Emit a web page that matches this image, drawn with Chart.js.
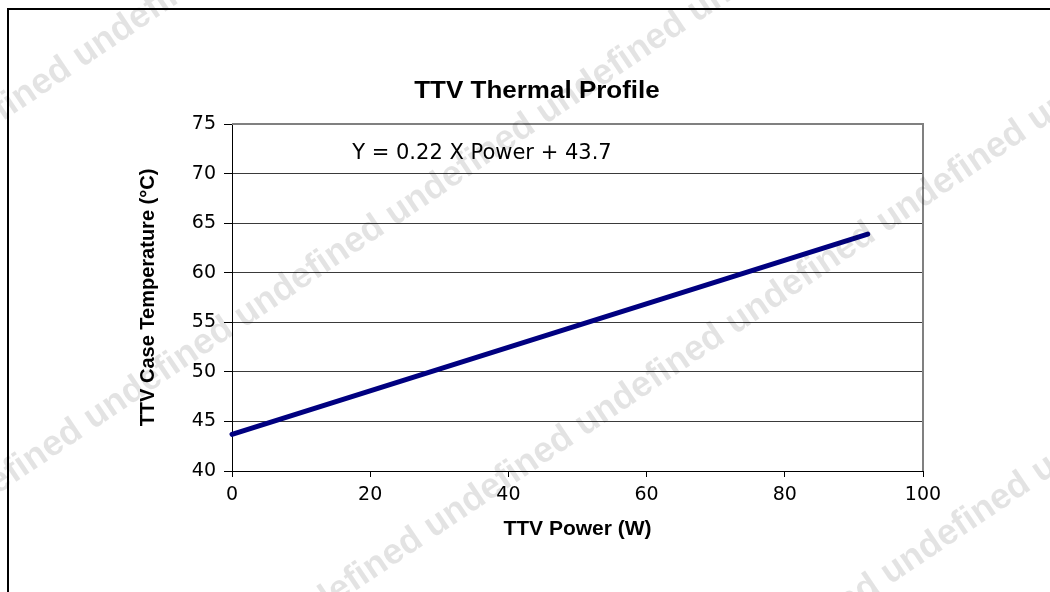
<!DOCTYPE html>
<html>
<head>
<meta charset="utf-8">
<title>TTV Thermal Profile</title>
<script src="https://cdn.jsdelivr.net/npm/chart.js@4.4.1/dist/chart.umd.min.js"></script>
<style>
  html, body { margin: 0; padding: 0; background: #fff; overflow: hidden; }
  #wrap { position: relative; width: 1050px; height: 592px; }
  #frame { position: absolute; left: 7px; top: 8px; width: 1100px; height: 700px;
           border-left: 2px solid #000; border-top: 2px solid #000; }
  #ttvChart { position: absolute; left: 0; top: 0; }
</style>
</head>
<body>
<div id="wrap">
  <div id="frame"></div>
  <canvas id="ttvChart" width="1050" height="592"></canvas>
</div>
<script>
// values
const powerW = [0, 92];
const caseTempC = [43.7, 63.9];
const xTicks = [0, 20, 40, 60, 80, 100];
const yTicks = [40, 45, 50, 55, 60, 65, 70, 75];

const chartTitle = 'TTV Thermal Profile';
const fitText = 'Y = 0.22 X Power + 43.7';
const watermark = 'undefined ';

const points = [];
powerW.forEach((p, i) => {
    points.push({ x: p, y: caseTempC[i] });
});

// title, equation text, watermark
const extras = {
    id: 'extras',
    afterDraw(chart) {
        const ctx = chart.ctx;
        const xs = chart.scales.x, ys = chart.scales.y;

        ctx.save();
        ctx.fillStyle = '#000';
        ctx.textAlign = 'center';
        ctx.textBaseline = 'middle';
        ctx.font = 'bold 23px "Liberation Sans", Arial, sans-serif';
        ctx.translate(537, 92);
        ctx.scale(1.13, 1);
        ctx.fillText(chartTitle, 0, 0);
        ctx.restore();

        ctx.save();
        ctx.fillStyle = '#000';
        ctx.textAlign = 'left';
        ctx.textBaseline = 'middle';
        ctx.font = '21px "DejaVu Sans", sans-serif';
        ctx.fillText(fitText, xs.getPixelForValue(17.4), ys.getPixelForValue(72));
        ctx.restore();

        // faint diagonal watermark
        const rows = [[82, 68], [93, 430], [735, 335], [890, 585]];
        ctx.save();
        ctx.font = 'bold 36px "Liberation Sans", Arial, sans-serif';
        ctx.fillStyle = 'rgba(0,0,0,0.11)';
        ctx.textBaseline = 'alphabetic';
        const period = ctx.measureText(watermark).width;
        rows.forEach(r => {
            ctx.save();
            ctx.translate(r[0], r[1]);
            ctx.rotate(-34 * Math.PI / 180);
            ctx.fillText(watermark.repeat(16), -8 * period, 0);
            ctx.restore();
        });
        ctx.restore();
    }
};

const data = {
    datasets: [{
        label: 'TTV',
        data: points,
        showLine: true,
        borderColor: '#000080',
        backgroundColor: '#000080',
        borderWidth: 5,
        borderCapStyle: 'round',
        pointRadius: 0,
        clip: false
    }]
};

const config = {
    type: 'scatter',
    data: data,
    options: {
        responsive: false,
        animation: false,
        layout: { padding: { left: 8, right: 127, top: 124, bottom: 10 } },
        plugins: {
            legend: { display: false },
            title: { display: false },
            tooltip: { enabled: false }
        },
        scales: {
            x: {
                type: 'linear',
                min: xTicks[0],
                max: xTicks[xTicks.length - 1],
                afterBuildTicks: s => { s.ticks = xTicks.map(v => ({ value: v })); },
                afterFit: s => { s.height = 111; },
                grid: { drawOnChartArea: false, drawTicks: true, tickLength: 6, color: '#000' },
                border: { color: '#000', width: 1 },
                ticks: {
                    color: '#000',
                    padding: 7,
                    maxRotation: 0,
                    font: { family: '"DejaVu Sans", sans-serif', size: 19 }
                },
                title: {
                    display: true,
                    text: 'TTV Power (W)',
                    color: '#000',
                    font: { family: '"Liberation Sans", Arial, sans-serif', size: 21, weight: 'bold' },
                    padding: { top: 0, bottom: 40 }
                }
            },
            y: {
                min: yTicks[0],
                max: yTicks[yTicks.length - 1],
                afterBuildTicks: s => { s.ticks = yTicks.map(v => ({ value: v })); },
                afterFit: s => { s.width = 224; },
                grid: {
                    color: c => (c.tick && c.tick.value === 75) ? '#808080' : '#3a3a3a',
                    tickColor: '#000',
                    tickLength: 8,
                    lineWidth: 1
                },
                border: { color: '#000', width: 1 },
                ticks: {
                    color: '#000',
                    padding: 8,
                    font: { family: '"DejaVu Sans", sans-serif', size: 19 }
                },
                title: {
                    display: true,
                    text: 'TTV Case Temperature (°C)',
                    color: '#000',
                    font: { family: '"Liberation Sans", Arial, sans-serif', size: 20, weight: 'bold' },
                    padding: { top: 128, bottom: 0 }
                }
            }
        }
    },
    plugins: [{
        id: 'frameLines',
        beforeDatasetsDraw(chart) {
            const a = chart.chartArea, ctx = chart.ctx;
            ctx.save();
            ctx.strokeStyle = '#808080';
            ctx.lineWidth = 2;
            ctx.beginPath();
            ctx.moveTo(a.left, a.top);
            ctx.lineTo(a.right, a.top);
            ctx.lineTo(a.right, a.bottom);
            ctx.stroke();
            ctx.restore();
        }
    }, extras]
};

window.onload = function () {
    const ttvChart = new Chart(document.getElementById('ttvChart'), config);
};
</script>
</body>
</html>
